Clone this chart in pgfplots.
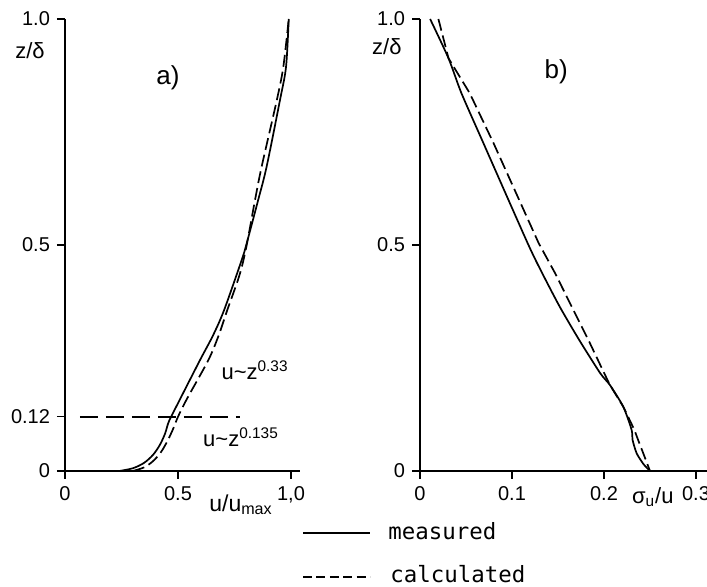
\documentclass[border=0pt]{standalone}
\usepackage{pgfplots}
\pgfplotsset{compat=1.18}
\usepackage{fontspec}
\setmainfont{Liberation Sans}
\newfontfamily\legfont{DejaVu Sans Mono}

\pgfplotsset{
  prof/.style={
    axis lines=left, axis line style={-, line width=0.8pt},
    anchor=south west, ymin=0, ymax=1, y=226pt,
    tick align=outside, major tick length=4pt,
    tick style={line width=0.7pt, black},
    tick label style={font=\fontsize{10}{11}\selectfont},
    /pgf/number format/assume math mode=true,
    clip=false,
  },
  meas/.style={black, line width=0.85pt},
  calc/.style={black, line width=0.85pt, dash pattern=on 6pt off 2.5pt},
}

\begin{document}
\begin{tikzpicture}
\useasboundingbox (0pt,0pt) rectangle (353.5pt,293.5pt);

% a) mean velocity profile
\begin{axis}[prof, at={(32.5pt,58pt)}, x=113pt, xmin=0, xmax=1.04,
  xtick={0,0.5,1}, xticklabels={0,0.5,{1,0}},
  ytick={0,0.12,0.5,1}, yticklabels={0,0.12,0.5,1.0}]
\addplot[meas, smooth, tension=0.5] coordinates {
  (0.24,0) (0.30,0.006) (0.35,0.018) (0.39,0.036) (0.42,0.058) (0.443,0.083)
  (0.46,0.11) (0.50,0.15) (0.597,0.245) (0.655,0.30) (0.704,0.356)
  (0.782,0.467) (0.803,0.502) (0.855,0.6) (0.892,0.673) (0.951,0.82)
  (0.978,0.894) (0.99,1.0)
};
\addplot[calc, smooth, tension=0.5] coordinates {
  (0.30,0) (0.35,0.008) (0.39,0.022) (0.425,0.042) (0.455,0.068) (0.48,0.095)
  (0.50,0.12) (0.54,0.16) (0.634,0.245) (0.68,0.30) (0.718,0.356)
  (0.77,0.43) (0.80,0.49) (0.841,0.6) (0.870,0.673) (0.937,0.82)
  (0.966,0.894) (0.99,1.0)
};
\addplot[black, line width=0.85pt, dash pattern=on 9pt off 4pt] coordinates {
  (0.066,0.12) (0.775,0.12)
};
\node[font=\fontsize{13}{14}\selectfont] at (axis cs:0.456,0.869) {a)};
\node[font=\fontsize{11}{12}\selectfont] at (axis cs:0.841,0.223) {u\textasciitilde z\textsuperscript{0.33}};
\node[font=\fontsize{11}{12}\selectfont] at (axis cs:0.779,0.075) {u\textasciitilde z\textsuperscript{0.135}};
\node[font=\fontsize{11.5}{12}\selectfont] at (axis cs:0.779,-0.075) {u/u\textsubscript{max}};
\node[font=\fontsize{11}{12}\selectfont] at (axis cs:-0.155,0.931) {z/δ};
\end{axis}

% b) turbulence intensity profile
\begin{axis}[prof, at={(210pt,58pt)}, x=460pt, xmin=0, xmax=0.315,
  xtick={0,0.1,0.2,0.3}, xticklabels={0,0.1,0.2,0.3},
  ytick={0,0.5,1}, yticklabels={0,0.5,1.0}]
\addplot[meas, smooth, tension=0.4] coordinates {
  (0.011,1.0) (0.031,0.913) (0.045,0.836) (0.069,0.725) (0.117,0.504)
  (0.133,0.437) (0.152,0.363) (0.173,0.29) (0.196,0.216) (0.2065,0.19)
  (0.221,0.142) (0.230,0.091) (0.231,0.069) (0.2355,0.039) (0.243,0.015) (0.25,0)
};
\addplot[calc] coordinates {
  (0.020,1.0) (0.031,0.913) (0.054,0.836) (0.080,0.725) (0.129,0.504)
  (0.147,0.437) (0.165,0.363) (0.183,0.29) (0.2003,0.216) (0.2065,0.19)
  (0.221,0.142) (0.233,0.091) (0.237,0.069) (0.2427,0.039) (0.25,0)
};
\node[font=\fontsize{13}{14}\selectfont] at (axis cs:0.148,0.883) {b)};
\node[font=\fontsize{11}{12}\selectfont] at (axis cs:0.253,-0.058) {σ\textsubscript{u}/u};
\node[font=\fontsize{11}{12}\selectfont] at (axis cs:-0.036,0.938) {z/δ};
\end{axis}

% legend
\draw[line width=0.85pt] (151.5pt,27pt) -- (185pt,27pt);
\node[anchor=base west, inner sep=0pt, font=\legfont\fontsize{11.2}{12}\selectfont] at (194pt,23.5pt) {measured};
\draw[line width=0.85pt, dash pattern=on 4.5pt off 2.2pt] (151.5pt,5pt) -- (185pt,5pt);
\node[anchor=base west, inner sep=0pt, font=\legfont\fontsize{11.2}{12}\selectfont] at (195pt,2pt) {calculated};
\end{tikzpicture}
\end{document}
